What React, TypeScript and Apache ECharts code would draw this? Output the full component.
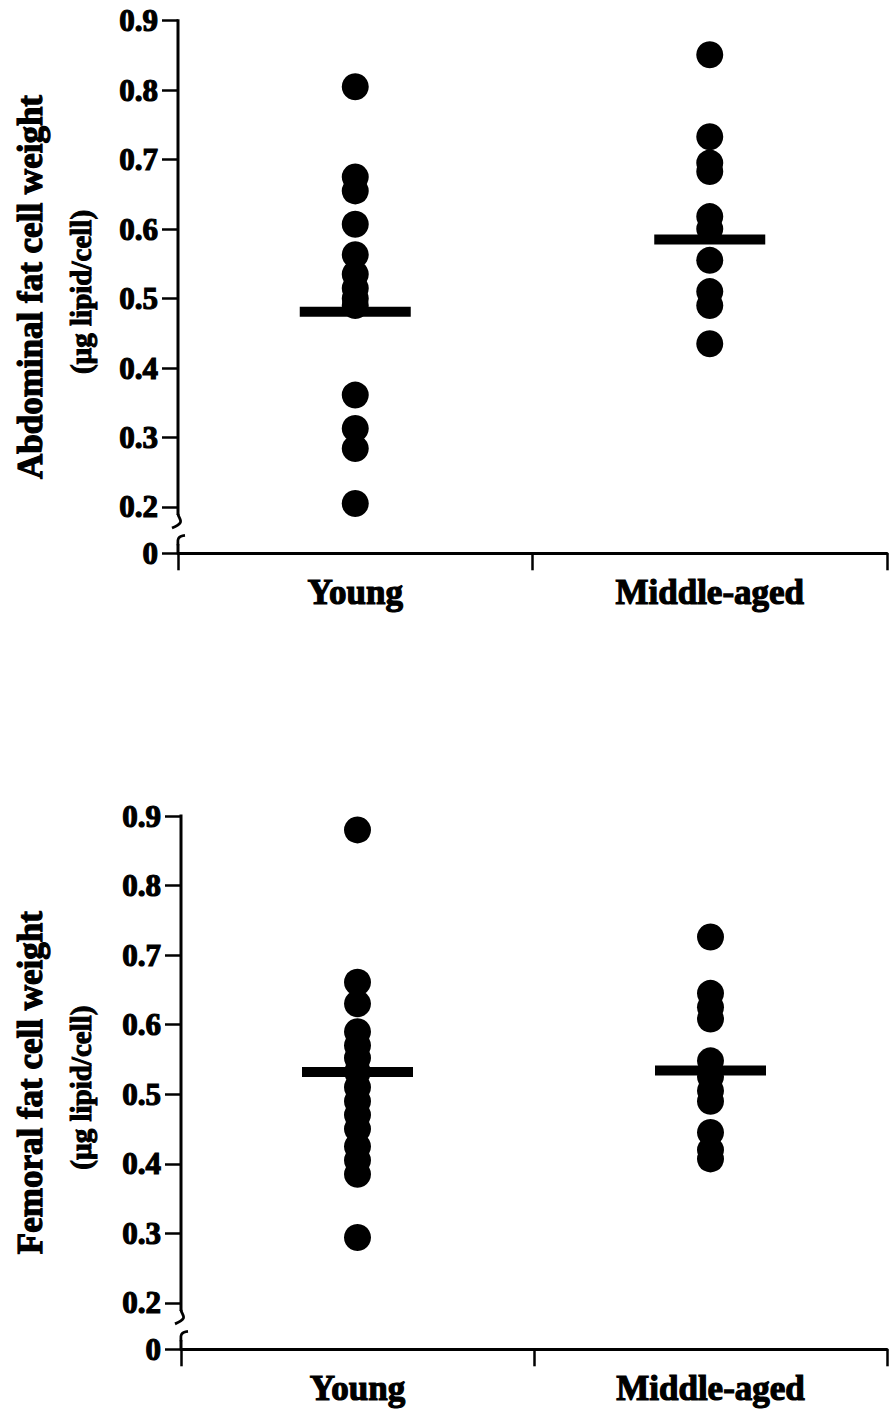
import { useEffect, useRef } from "react";
import * as echarts from "echarts";

// Groups on the horizontal axis
const groups = ["Young", "Middle-aged"];

// Tick values drawn above the axis break
const yTicks = [0.2, 0.3, 0.4, 0.5, 0.6, 0.7, 0.8, 0.9];
// Value that sits at the broken-axis origin (labelled "0")
const AXIS_FLOOR = 0.1333;
const AXIS_TOP = 0.9;

// Abdominal fat cell weight (µg lipid/cell)
const abdominalYoung = [0.805, 0.675, 0.655, 0.607, 0.563, 0.535, 0.515, 0.5, 0.49, 0.361, 0.313, 0.284, 0.205];
const abdominalMiddle = [0.851, 0.733, 0.695, 0.683, 0.618, 0.6, 0.555, 0.51, 0.49, 0.435];
const abdominalMeans = [0.481, 0.585];

// Femoral fat cell weight (µg lipid/cell)
const femoralYoung = [0.88, 0.661, 0.63, 0.59, 0.57, 0.552, 0.532, 0.51, 0.49, 0.47, 0.45, 0.425, 0.405, 0.385, 0.294];
const femoralMiddle = [0.726, 0.645, 0.625, 0.608, 0.548, 0.525, 0.505, 0.49, 0.445, 0.42, 0.407];
const femoralMeans = [0.532, 0.534];

const FONT = '"Liberation Serif", "Times New Roman", serif';

const panels = [
  {
    title: "Abdominal fat cell weight",
    young: abdominalYoung,
    middle: abdominalMiddle,
    means: abdominalMeans,
    grid: { left: 178, top: 20.7, width: 709, height: 532.6 },
  },
  {
    title: "Femoral fat cell weight",
    young: femoralYoung,
    middle: femoralMiddle,
    means: femoralMeans,
    grid: { left: 181, top: 816, width: 706, height: 533.3 },
  },
];

const unitLabel = "(µg lipid/cell)";

export default function App() {
  const ref = useRef<HTMLDivElement>(null);

  useEffect(() => {
    if (!ref.current) return;
    const chart = echarts.init(ref.current, null, { renderer: "svg" });

    const heavy = { textBorderColor: "#000", textBorderWidth: 1.2 };

    const grids = panels.map((p) => ({ ...p.grid, containLabel: false }));
    const xAxes = panels.map((_, i) => ({
      type: "category",
      gridIndex: i,
      data: groups,
      boundaryGap: true,
      axisLine: { show: true, lineStyle: { color: "#000", width: 3 } },
      axisTick: { show: true, length: 17, alignWithLabel: false, lineStyle: { color: "#000", width: 2.5 } },
      axisLabel: {
        color: "#000",
        fontFamily: FONT,
        fontWeight: "bold",
        fontSize: 35,
        margin: 22,
        interval: 0,
        ...heavy,
      },
    }));
    const labelValues = [AXIS_FLOOR, ...yTicks];
    const yAxes = panels.map((_, i) => ({
      type: "value",
      gridIndex: i,
      min: AXIS_FLOOR,
      max: AXIS_TOP,
      splitLine: { show: false },
      axisLine: { show: false },
      axisTick: {
        show: true,
        length: 16,
        customValues: labelValues,
        lineStyle: { color: "#000", width: 2.5 },
      },
      axisLabel: {
        customValues: labelValues,
        showMinLabel: true,
        showMaxLabel: true,
        color: "#000",
        fontFamily: FONT,
        fontWeight: "bold",
        fontSize: 31,
        margin: 20,
        formatter: (v: number) => (v < 0.15 ? "0" : v.toFixed(1)),
        ...heavy,
      },
    }));

    const series: any[] = [];
    panels.forEach((p, i) => {
      series.push({
        type: "scatter",
        xAxisIndex: i,
        yAxisIndex: i,
        symbol: "circle",
        symbolSize: 27,
        itemStyle: { color: "#000", opacity: 1 },
        data: [...p.young.map((v) => [0, v]), ...p.middle.map((v) => [1, v])],
        z: 3,
      });
      series.push({
        type: "scatter",
        xAxisIndex: i,
        yAxisIndex: i,
        symbol: "rect",
        symbolSize: [111, 10],
        itemStyle: { color: "#000", opacity: 1 },
        data: p.means.map((v, k) => [k, v]),
        z: 4,
      });
    });

    chart.setOption({
      animation: false,
      backgroundColor: "#fff",
      grid: grids,
      xAxis: xAxes,
      yAxis: yAxes,
      series,
    });

    // Broken y axis, break marks and rotated axis titles
    const graphic: any[] = [];
    panels.forEach((p, i) => {
      const x = p.grid.left;
      const yTop = chart.convertToPixel({ yAxisIndex: i }, AXIS_TOP) as number;
      const y02 = chart.convertToPixel({ yAxisIndex: i }, 0.2) as number;
      const y0 = chart.convertToPixel({ yAxisIndex: i }, AXIS_FLOOR) as number;
      const stroke = { stroke: "#000", lineWidth: 3, fill: "none" };
      graphic.push({ type: "line", shape: { x1: x, y1: yTop - 1.5, x2: x, y2: y02 + 8 }, style: stroke });
      graphic.push({
        type: "bezierCurve",
        shape: { x1: x, y1: y02 + 7, cpx1: x + 1, cpy1: y02 + 13, cpx2: x + 8, cpy2: y02 + 15, x2: x - 6, y2: y02 + 21 },
        style: { ...stroke, lineWidth: 2.8 },
      });
      graphic.push({
        type: "bezierCurve",
        shape: { x1: x + 7, y1: y0 - 18, cpx1: x - 2, cpy1: y0 - 17, cpx2: x, cpy2: y0 - 12, x2: x, y2: y0 - 8 },
        style: { ...stroke, lineWidth: 2.8 },
      });
      graphic.push({ type: "line", shape: { x1: x, y1: y0 - 9, x2: x, y2: y0 }, style: stroke });

      const yMid = (yTop + y0) / 2;
      graphic.push({
        type: "text",
        x: 30,
        y: yMid,
        rotation: Math.PI / 2,
        style: {
          text: p.title,
          font: `bold 35px ${FONT}`,
          fill: "#000",
          stroke: "#000",
          lineWidth: 1.2,
          align: "center",
          verticalAlign: "middle",
        },
      });
      graphic.push({
        type: "text",
        x: 81,
        y: yMid + 5,
        rotation: Math.PI / 2,
        style: {
          text: unitLabel,
          font: `bold 29px ${FONT}`,
          fill: "#000",
          stroke: "#000",
          lineWidth: 1,
          align: "center",
          verticalAlign: "middle",
        },
      });
    });
    chart.setOption({ graphic });

    return () => chart.dispose();
  }, []);

  return (
    <div
      ref={ref}
      style={{ position: "absolute", left: 0, top: 0, width: 894, height: 1416, background: "#fff" }}
    />
  );
}
